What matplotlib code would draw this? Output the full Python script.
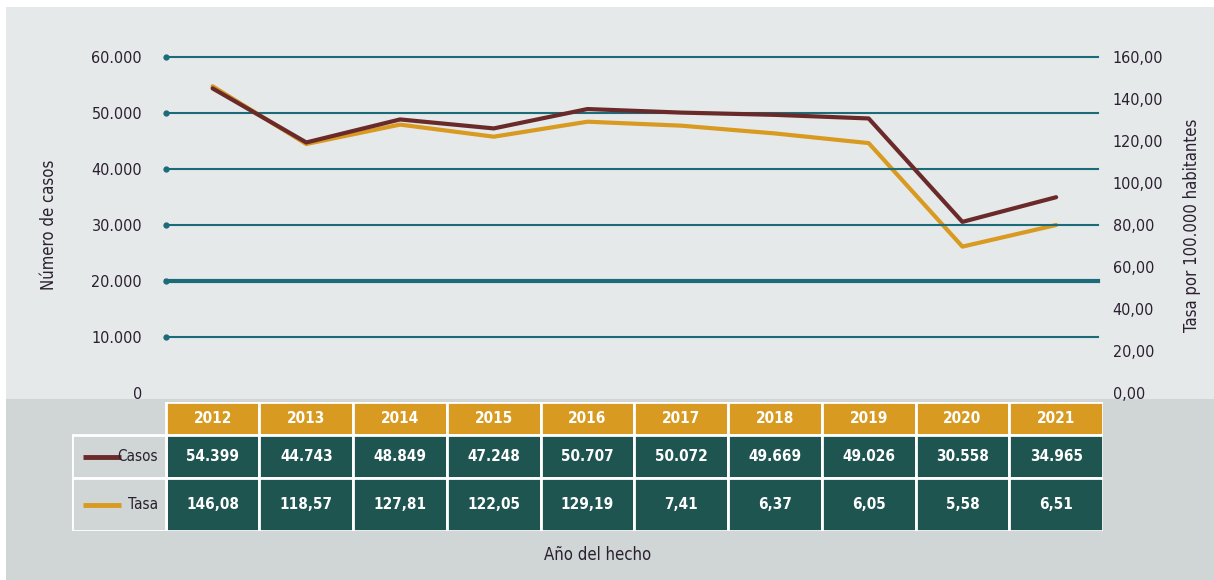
import matplotlib.pyplot as plt
from matplotlib.patches import Rectangle

# data
anios = ['2012', '2013', '2014', '2015', '2016', '2017', '2018', '2019', '2020', '2021']
casos = [54399, 44743, 48849, 47248, 50707, 50072, 49669, 49026, 30558, 34965]
# rate as drawn by the line
tasa_linea = [146.08, 118.57, 127.81, 122.05, 129.19, 127.3, 123.6, 119.0, 69.7, 80.0]
# rate as printed in the table
tasa_tabla = ['146,08', '118,57', '127,81', '122,05', '129,19', '7,41', '6,37', '6,05', '5,58', '6,51']
casos_tabla = ['54.399', '44.743', '48.849', '47.248', '50.707', '50.072', '49.669', '49.026', '30.558', '34.965']
ticks_izq = [0, 10000, 20000, 30000, 40000, 50000, 60000]
ticks_izq_lbl = ['0', '10.000', '20.000', '30.000', '40.000', '50.000', '60.000']
ticks_der = [0, 20, 40, 60, 80, 100, 120, 140, 160]
ticks_der_lbl = ['0,00', '20,00', '40,00', '60,00', '80,00', '100,00', '120,00', '140,00', '160,00']

# colours
fondo = '#e6e9ea'
banda = '#d0d5d5'
teal = '#1c6b78'
oro = '#d89a20'
verde = '#1f5551'
cafe = '#6b2a2a'
txt = '#2a2030'

plt.rcParams['font.family'] = ['DejaVu Sans']
plt.rcParams['font.stretch'] = 'condensed'

W, H = 1214, 580
fig = plt.figure(figsize=(W / 100, H / 100), dpi=100)
fig.patch.set_facecolor('white')


def fx(px):
    return px / W


def fy(py):
    return 1 - py / H


# background panels
bg = fig.add_axes([0, 0, 1, 1])
bg.set_xlim(0, W)
bg.set_ylim(H, 0)
bg.axis('off')
bg.add_patch(Rectangle((6, 7), W - 6, 393, color=fondo, lw=0))
bg.add_patch(Rectangle((6, 399), W - 6, H - 399, color=banda, lw=0))

# main chart
x0, x1 = 165.7, 1103
ytop, ybot = 57, 393
ax = fig.add_axes([fx(x0), fy(ybot), fx(x1 - x0), (ybot - ytop) / H])
ax.patch.set_alpha(0)
xs = list(range(len(anios)))
ax.set_xlim(-0.5, len(anios) - 0.5)
ax.set_ylim(0, 60000)
for s in ax.spines.values():
    s.set_visible(False)
ax.set_xticks([])
ax.set_yticks(ticks_izq)
ax.set_yticklabels(ticks_izq_lbl, fontsize=11.5, color=txt)
ax.tick_params(axis='y', length=0, pad=17)
for v in ticks_izq[1:]:
    lw = 3 if v == 20000 else 1.5
    ax.axhline(v, xmin=0, xmax=0.995, color=teal, lw=lw, zorder=1, clip_on=False)
    ax.plot([-0.5], [v], 'o', color=teal, ms=3.5, clip_on=False, zorder=2)
ax.set_ylabel('Número de casos', fontsize=12, color=txt, labelpad=24)

ax2 = ax.twinx()
ax2.set_ylim(0, 160)
for s in ax2.spines.values():
    s.set_visible(False)
ax2.set_yticks(ticks_der)
ax2.set_yticklabels(ticks_der_lbl, fontsize=11.5, color=txt)
ax2.tick_params(axis='y', length=0, pad=7)
ax2.set_ylabel('Tasa por 100.000 habitantes', fontsize=12, color=txt, labelpad=14)

ax2.plot(xs, tasa_linea, color=oro, lw=3, zorder=3, solid_capstyle='round')
ax.plot(xs, casos, color=cafe, lw=3, zorder=4, solid_capstyle='round')
ax.set_zorder(ax2.get_zorder() + 1)

# table
tb = fig.add_axes([fx(72), fy(531), fx(x1 - 72), (531 - 402) / H])
tb.axis('off')
tb.set_xlim(-1.5, len(anios) - 0.5)
tb.set_ylim(0, 3)
# row heights from pixel sizes: header 33, casos 43, tasa 53
hh = 33 / 129 * 3
hc = 43 / 129 * 3
ht = 3 - hh - hc
tops = [3, 3 - hh, 3 - hh - hc]
heights = [hh, hc, ht]
for i, a in enumerate(anios):
    tb.add_patch(Rectangle((i - 0.5, tops[0] - heights[0]), 1, heights[0],
                           facecolor=oro, edgecolor='white', lw=2))
    tb.text(i, tops[0] - heights[0] / 2, a, color='white', fontsize=11,
            ha='center', va='center', fontweight='semibold')
    for r, val in ((1, casos_tabla[i]), (2, tasa_tabla[i])):
        tb.add_patch(Rectangle((i - 0.5, tops[r] - heights[r]), 1, heights[r],
                               facecolor=verde, edgecolor='white', lw=2))
        tb.text(i, tops[r] - heights[r] / 2, val, color='white', fontsize=11,
                ha='center', va='center', fontweight='semibold')
for r, nombre, col in ((1, 'Casos', cafe), (2, 'Tasa', oro)):
    yc = tops[r] - heights[r] / 2
    tb.add_patch(Rectangle((-1.5, tops[r] - heights[r]), 1, heights[r],
                           facecolor=banda, edgecolor='white', lw=2))
    tb.plot([-1.38, -0.98], [yc, yc], color=col, lw=3.5, solid_capstyle='butt')
    tb.text(-0.58, yc, nombre, color=txt, fontsize=11, ha='right', va='center')

fig.text(fx(598), fy(555), 'Año del hecho', fontsize=12, color=txt,
         ha='center', va='center')

fig.savefig('out.png', dpi=100, facecolor=fig.get_facecolor())
